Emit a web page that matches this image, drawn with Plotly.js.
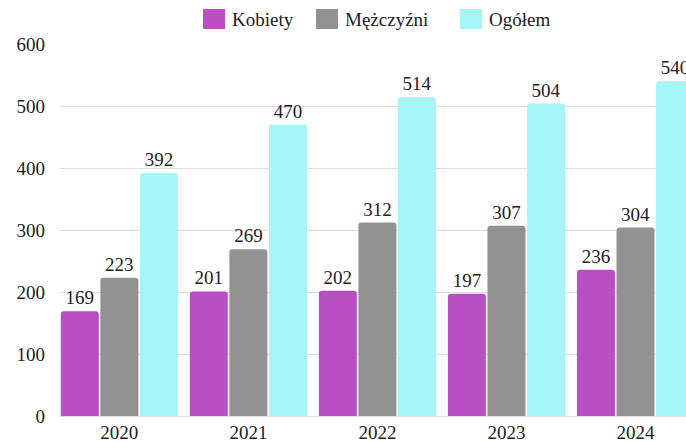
<!DOCTYPE html>
<html><head><meta charset="utf-8">
<script src="https://cdn.plot.ly/plotly-3.0.1.min.js"></script>
<style>html,body{margin:0;padding:0;overflow:hidden;background:#fff}#chart{width:700px;height:442px}</style>
</head><body><div id="chart"></div>
<script>
const years = ['2020','2021','2022','2023','2024'];
const seriesNames = ['Kobiety','Mężczyźni','Ogółem'];
const kobiety = [169,201,202,197,236];
const mezczyzni = [223,269,312,307,304];
const ogolem = [392,470,514,504,540];
const colors = ['#b84fc2','#929292','#a6f4f5'];
const values = [kobiety, mezczyzni, ogolem];

const FONT = '"Liberation Serif", "Times New Roman", serif';
const traces = values.map((v,i)=>({
  type:'bar', x:years, y:v, name:seriesNames[i],
  marker:{color:colors[i], line:{width:0}},
  text:v.map(String), textposition:'outside', cliponaxis:false,
  textfont:{family:FONT,size:19,color:'#222'}, constraintext:'none',
  showlegend:false, hoverinfo:'skip'
}));

const L=60, PW=640, T=44, PH=372;
const px = x=>(x-L)/PW, py = y=>(T+PH-y)/PH;
const legX = [203,316,460];
const shapes=[], annotations=[];
seriesNames.forEach((n,i)=>{
  shapes.push({type:'rect',xref:'paper',yref:'paper',x0:px(legX[i]),x1:px(legX[i]+22),y0:py(29),y1:py(9),fillcolor:colors[i],line:{width:0}});
  annotations.push({xref:'paper',yref:'paper',x:px(legX[i]+27),y:py(19),xanchor:'left',yanchor:'middle',text:n,showarrow:false,font:{family:FONT,size:19,color:'#222'}});
});

const layout={
  width:700,height:442,
  margin:{l:L,r:0,t:T,b:442-T-PH},
  paper_bgcolor:'#fff',plot_bgcolor:'#fff',
  barmode:'group',bargap:0.08,bargroupgap:0.04,barcornerradius:3,
  font:{family:FONT,size:19,color:'#222'},
  xaxis:{type:'category',range:[-0.46,4.5],showgrid:false,showline:false,zeroline:false,ticks:'',ticklabelstandoff:3,tickfont:{family:FONT,size:19,color:'#222'}},
  yaxis:{range:[0,600],dtick:100,showgrid:true,gridcolor:'#dddddd',gridwidth:1,zeroline:true,zerolinecolor:'#dddddd',showline:false,ticks:'',ticklabelstandoff:14,tickfont:{family:FONT,size:19,color:'#222'}},
  shapes:shapes,annotations:annotations,showlegend:false
};
Plotly.newPlot('chart',traces,layout,{displayModeBar:false,staticPlot:true});
</script></body></html>
